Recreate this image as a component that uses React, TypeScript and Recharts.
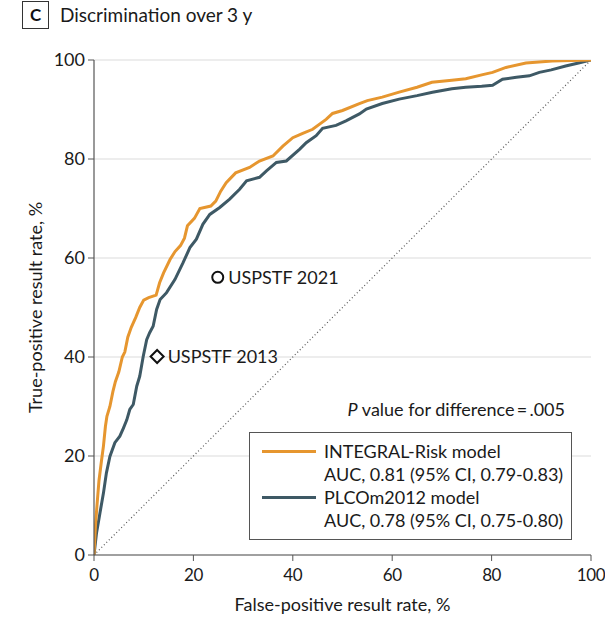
import React from 'react';
import {
  ComposedChart,
  Line,
  Scatter,
  XAxis,
  YAxis,
  CartesianGrid,
  ReferenceLine,
  LabelList,
  Legend,
} from 'recharts';

const integralFpr = [0, 0.3, 0.6, 1.0, 1.5, 1.9, 2.3, 2.6, 3.2, 3.8, 4.3, 5.0, 5.7, 6.2, 6.8, 7.5, 8.4, 9.2, 10.0, 11.0, 12.5, 13.2, 14.0, 15.3, 16.3, 17.4, 18.2, 18.8, 20.2, 21.3, 23.5, 24.5, 25.5, 26.6, 28.5, 31.3, 33.3, 36, 38, 40, 42, 44, 46.7, 48, 50, 53.4, 55, 58, 61.4, 65, 68, 72, 74.8, 78, 80.2, 82.9, 86.9, 92.2, 96, 100];
const integralTpr = [0, 6, 10, 15, 19, 22, 26, 28, 30, 33, 35, 37, 40, 41, 44, 46, 48, 50, 51.5, 52, 52.5, 55, 57, 59.7, 61.3, 62.5, 64, 66.5, 68, 70, 70.5, 71.5, 73.5, 75.2, 77.2, 78.3, 79.6, 80.6, 82.6, 84.3, 85.2, 86, 88, 89.2, 89.8, 91.2, 91.8, 92.5, 93.5, 94.5, 95.5, 95.9, 96.2, 97, 97.5, 98.5, 99.4, 99.8, 99.9, 100];

const plcoFpr = [0, 0.5, 1.2, 1.9, 2.5, 3.2, 4.2, 5.2, 5.9, 6.6, 7.2, 7.9, 8.6, 9.2, 9.9, 10.6, 11.2, 11.9, 12.6, 13.3, 14.6, 16.3, 17.9, 19.3, 20.6, 21.9, 23.3, 25.3, 27.3, 29.3, 30.7, 33.3, 34.7, 36.7, 38.7, 41.4, 42.7, 44.7, 46, 48.7, 50.7, 53.4, 54.8, 58, 61.4, 65, 68.1, 72, 74.8, 78, 80.2, 82.2, 85, 87.6, 89.6, 92, 94.9, 97.5, 100];
const plcoTpr = [0, 4.4, 8.5, 12.5, 16.6, 19.9, 22.7, 24, 25.6, 27.3, 29.4, 30.4, 34.1, 36.1, 40.1, 43.5, 44.9, 46.2, 49.6, 51.6, 53, 55.7, 59, 62.1, 63.8, 66.8, 68.8, 70.2, 71.9, 73.9, 75.6, 76.3, 77.6, 79.3, 79.6, 82, 83.3, 84.7, 86.2, 86.8, 87.7, 89.1, 90.1, 91.2, 92.1, 92.8, 93.5, 94.2, 94.5, 94.7, 94.9, 96.1, 96.5, 96.8, 97.5, 98, 98.8, 99.4, 100];

const guidelineNames = ['USPSTF 2021', 'USPSTF 2013'];
const guidelineFpr = [24.9, 12.7];
const guidelineTpr = [56.1, 40.1];

const axisTicks = [0, 20, 40, 60, 80, 100];

const seriesNames = ['INTEGRAL-Risk model', 'PLCOm2012 model'];
const seriesAuc = ['AUC, 0.81 (95% CI, 0.79-0.83)', 'AUC, 0.78 (95% CI, 0.75-0.80)'];
const pValueText = ' value for difference\u2009=\u2009.005';
const titleLetter = 'C';
const titleText = 'Discrimination over 3 y';
const xLabel = 'False-positive result rate, %';
const yLabel = 'True-positive result rate, %';

const ORANGE = '#E6962F';
const SLATE = '#3E5965';
const FONT = 'Lato, "Open Sans", sans-serif';
const FS = 18;

const integralData = integralFpr.map((x, i) => ({ x, y: integralTpr[i] }));
const plcoData = plcoFpr.map((x, i) => ({ x, y: plcoTpr[i] }));
const guide2021 = [{ x: guidelineFpr[0], y: guidelineTpr[0], label: guidelineNames[0] }];
const guide2013 = [{ x: guidelineFpr[1], y: guidelineTpr[1], label: guidelineNames[1] }];

const CircleShape = (props: any) => {
  const { cx, cy } = props;
  return <circle cx={cx} cy={cy} r={5.5} fill="#fff" stroke="#111" strokeWidth={2} />;
};

const DiamondShape = (props: any) => {
  const { cx, cy } = props;
  const r = 6.5;
  return (
    <path
      d={`M${cx},${cy - r} L${cx + r},${cy} L${cx},${cy + r} L${cx - r},${cy} Z`}
      fill="#fff"
      stroke="#111"
      strokeWidth={2}
    />
  );
};

const LegendContent = () => {
  const colors = [ORANGE, SLATE];
  return (
    <div style={{ fontFamily: FONT, fontSize: FS, color: '#1a1a1a', width: 323 }}>
      <div style={{ height: 23, lineHeight: '23px', textAlign: 'right', paddingRight: 7, whiteSpace: 'nowrap' }}>
        <i>P</i>
        {pValueText}
      </div>
      <div
        style={{
          marginTop: 11,
          border: '1.5px solid #555',
          boxSizing: 'border-box',
          height: 108,
          padding: '7px 0 0 0',
          background: '#fff',
          whiteSpace: 'nowrap',
        }}
      >
        {seriesNames.map((name, i) => (
          <div key={name}>
            <div style={{ display: 'flex', alignItems: 'center', height: 23 }}>
              <div style={{ width: 54, height: 3, background: colors[i], marginLeft: 12, marginRight: 8 }} />
              <span style={{ lineHeight: '23px' }}>{name}</span>
            </div>
            <div style={{ height: 23, lineHeight: '23px', paddingLeft: 74 }}>{seriesAuc[i]}</div>
          </div>
        ))}
      </div>
    </div>
  );
};

export default function App() {
  return (
    <div style={{ position: 'absolute', left: 0, top: 0, width: 605, height: 619, background: '#fff' }}>
      <div
        style={{
          position: 'absolute',
          left: 22,
          top: 1,
          width: 27,
          height: 28,
          border: '1.5px solid #333',
          boxSizing: 'border-box',
          fontFamily: FONT,
          fontWeight: 700,
          fontSize: 17,
          lineHeight: '25px',
          textAlign: 'center',
          color: '#111',
        }}
      >
        {titleLetter}
      </div>
      <div
        style={{
          position: 'absolute',
          left: 60,
          top: 1,
          height: 28,
          lineHeight: '28px',
          fontFamily: FONT,
          fontSize: 19,
          color: '#1a1a1a',
          whiteSpace: 'nowrap',
        }}
      >
        {titleText}
      </div>
      <ComposedChart
        width={605}
        height={619}
        margin={{ top: 60, right: 14, bottom: 34, left: 34 }}
        style={{ fontFamily: FONT }}
      >
        <CartesianGrid vertical={false} stroke="#dcdcdc" strokeWidth={1.2} />
        <XAxis
          type="number"
          dataKey="x"
          domain={[0, 100]}
          ticks={axisTicks}
          height={30}
          tickLine={{ stroke: '#555' }}
          axisLine={{ stroke: '#555', strokeWidth: 1.2 }}
          tickSize={6}
          tickMargin={8}
          tick={{ fill: '#1a1a1a', fontSize: 17, letterSpacing: -0.4 }}
          allowDataOverflow
          label={{ value: xLabel, position: 'bottom', offset: 13, fill: '#1a1a1a', fontSize: FS }}
        />
        <YAxis
          type="number"
          dataKey="y"
          domain={[0, 100]}
          ticks={axisTicks}
          width={60}
          tickLine={{ stroke: '#555' }}
          axisLine={{ stroke: '#555', strokeWidth: 1.2 }}
          tickSize={6}
          tickMargin={3}
          tick={{ fill: '#1a1a1a', fontSize: FS }}
          allowDataOverflow
          label={{ value: yLabel, angle: -90, position: 'center', dx: -28, fill: '#1a1a1a', fontSize: FS }}
        />
        <ReferenceLine
          segment={[
            { x: 0, y: 0 },
            { x: 100, y: 100 },
          ]}
          stroke="#555"
          strokeWidth={1.2}
          strokeDasharray="1 2.5"
        />
        <Line
          data={plcoData}
          dataKey="y"
          type="linear"
          stroke={SLATE}
          strokeWidth={3}
          dot={false}
          activeDot={false}
          isAnimationActive={false}
        />
        <Line
          data={integralData}
          dataKey="y"
          type="linear"
          stroke={ORANGE}
          strokeWidth={3}
          dot={false}
          activeDot={false}
          isAnimationActive={false}
        />
        <Scatter data={guide2021} dataKey="y" shape={CircleShape} isAnimationActive={false}>
          <LabelList dataKey="label" position="right" offset={6} fill="#1a1a1a" fontSize={FS} />
        </Scatter>
        <Scatter data={guide2013} dataKey="y" shape={DiamondShape} isAnimationActive={false}>
          <LabelList dataKey="label" position="right" offset={6} fill="#1a1a1a" fontSize={FS} />
        </Scatter>
        <Legend
          layout="horizontal"
          verticalAlign="middle"
          align="center"
          content={<LegendContent />}
          wrapperStyle={{ left: 249, top: 398, width: 323, height: 141 }}
        />
      </ComposedChart>
    </div>
  );
}
